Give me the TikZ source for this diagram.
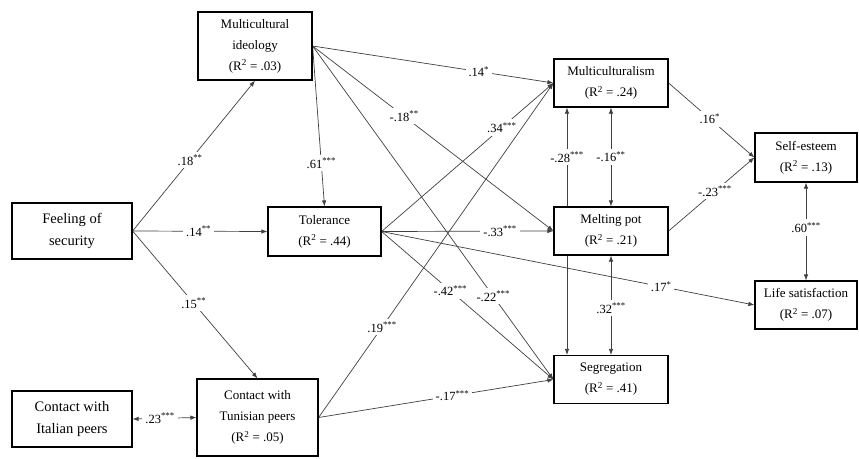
\documentclass[tikz,border=0pt]{standalone}
\usepackage{fontspec}
\setmainfont{Liberation Serif}
\usetikzlibrary{arrows.meta,backgrounds}
\tikzset{
  box/.style  = {draw, line width=1.2pt, fill=white, align=center, inner sep=0pt,
                 font=\fontsize{13}{21}\selectfont},
  bigbox/.style = {box, minimum width=120pt, minimum height=56pt,
                 font=\fontsize{14.5}{22}\selectfont},
  outbox/.style = {box, minimum width=114pt, minimum height=48pt},
  arr/.style  = {-{Latex[length=6pt,width=4.5pt]}, line width=0.7pt, black!75},
  dbl/.style  = {{Latex[length=6pt,width=4.5pt]}-{Latex[length=6pt,width=4.5pt]},
                 line width=0.7pt, black!75},
  coef/.style = {fill=white, inner sep=3pt, text=black,
                 font=\fontsize{12.5}{14}\selectfont},
}
\newcommand{\rsq}[1]{(R\textsuperscript{2} = #1)}

\begin{document}
\begin{tikzpicture}[x=1pt,y=-1pt]
  \useasboundingbox (0,0) rectangle (859,458);
  % predictors
  \node[bigbox] (fs) at (72,231) {Feeling of\\security};
  \node[bigbox] (it) at (72,419) {Contact with\\Italian peers};
  \node[box, minimum width=114pt, minimum height=68pt] (mi) at (255,46)
      {Multicultural\\ideology\\\rsq{.03}};
  \node[box, minimum width=113pt, minimum height=49pt] (tol) at (324.5,231.5)
      {Tolerance\\\rsq{.44}};
  \node[box, minimum width=121pt, minimum height=77pt] (ct) at (257.5,417.5)
      {Contact with\\Tunisian peers\\\rsq{.05}};
  % acculturation
  \node[outbox] (mult) at (611,83) {Multiculturalism\\\rsq{.24}};
  \node[outbox] (melt) at (611,231) {Melting pot\\\rsq{.21}};
  \node[outbox] (seg) at (611,379.5) {Segregation\\\rsq{.41}};
  % outcomes
  \node[box, minimum width=102pt, minimum height=49pt] (se) at (806,157.5)
      {Self-esteem\\\rsq{.13}};
  \node[box, minimum width=102pt, minimum height=48pt] (ls) at (806,305)
      {Life satisfaction\\\rsq{.07}};

  \begin{scope}[on background layer]
    \draw[arr] (fs.east) -- node[coef,pos=.47] {.18\textsuperscript{**}} (mi.south);
    \draw[arr] (fs.east) -- node[coef,pos=.49] {.14\textsuperscript{**}} (tol.west);
    \draw[arr] (fs.east) -- node[coef,pos=.49] {.15\textsuperscript{**}} (ct.north);
    \draw[dbl] (it.east) -- node[coef,pos=.43] {.23\textsuperscript{***}} (ct.west);
    \draw[arr] (mi.east) -- node[coef,pos=.73] {.61\textsuperscript{***}} (tol.north);
    \draw[arr] (mi.east) -- node[coef,pos=.69] {.14\textsuperscript{*}} (mult.west);
    \draw[arr] (mi.east) -- node[coef,pos=.38] {-.18\textsuperscript{**}} (melt.west);
    \draw[arr] (mi.east) -- node[coef,pos=.75] {-.22\textsuperscript{***}} (seg.west);
    \draw[arr] (tol.east) -- node[coef,pos=.70] {.34\textsuperscript{***}} (mult.west);
    \draw[arr] (tol.east) -- node[coef,pos=.69] {-.33\textsuperscript{***}} (melt.west);
    \draw[arr] (tol.east) -- node[coef,pos=.40] {-.42\textsuperscript{***}} (seg.west);
    \draw[arr] (tol.east) -- node[coef,pos=.75] {.17\textsuperscript{*}} (ls.west);
    \draw[arr] (ct.east) -- node[coef,pos=.27] {.19\textsuperscript{***}} (mult.west);
    \draw[arr] (ct.east) -- node[coef,pos=.57] {-.17\textsuperscript{***}} (seg.west);
    % covariances
    \draw[dbl] ([xshift=-44pt]mult.south) -- node[coef,pos=.2] {-.28\textsuperscript{***}}
        ([xshift=-44pt]seg.north);
    \draw[dbl] (mult.south) -- node[coef,pos=.5] {-.16\textsuperscript{**}} (melt.north);
    \draw[dbl] (melt.south) -- node[coef,pos=.53] {.32\textsuperscript{***}} (seg.north);
    \draw[arr] (mult.east) -- node[coef,pos=.48] {.16\textsuperscript{*}} (se.west);
    \draw[arr] (melt.east) -- node[coef,pos=.54] {-.23\textsuperscript{***}} (se.west);
    \draw[dbl] (se.south) -- node[coef,pos=.46] {.60\textsuperscript{***}} (ls.north);
  \end{scope}
\end{tikzpicture}
\end{document}
